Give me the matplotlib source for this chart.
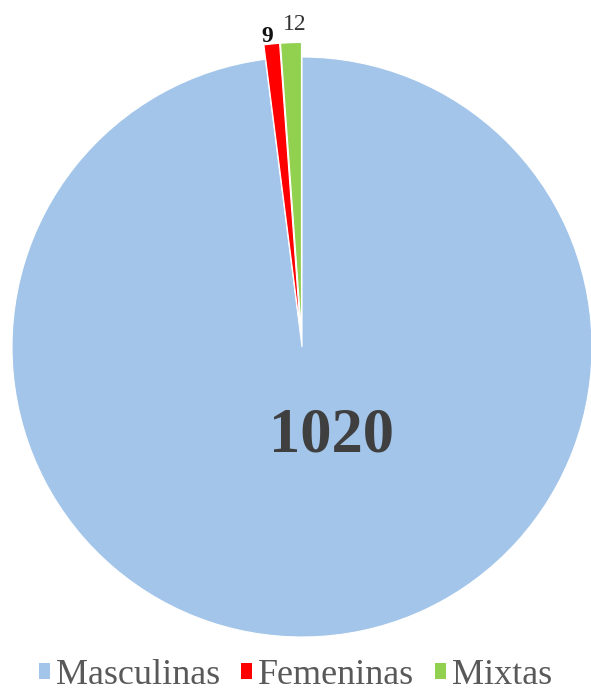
import matplotlib.pyplot as plt
from matplotlib.font_manager import FontProperties

# Datos de las categorías
categorias = ['Masculinas', 'Femeninas', 'Mixtas']
valores = [1020, 9, 12]
colores = ['#A3C5E9', '#FF0000', '#92D050']
separacion = [0, 0.05, 0.05]

plt.rcParams['font.family'] = ['Liberation Serif', 'DejaVu Serif']

fig = plt.figure(figsize=(5.91, 6.98), dpi=100)
ax = fig.add_axes([0, 0, 1, 1])

wedges, _ = ax.pie(valores, colors=colores, startangle=90, counterclock=False,
                   explode=separacion,
                   wedgeprops=dict(edgecolor='white', linewidth=0.8))

ax.set_xlim(-302 / 290, 289 / 290)
ax.set_ylim(-351 / 290, 347 / 290)
ax.set_aspect('auto')
ax.axis('off')

# Etiquetas con los valores
ax.text(0.1, -0.31, str(valores[0]), ha='center', va='center',
        fontsize=45, fontweight='bold', color='#3f3f3f')
ax.text(-0.12, 1.07, str(valores[1]), ha='center', va='center',
        fontsize=17, fontweight='bold', color='#111111')
ax.text(-0.025, 1.113, str(valores[2]), ha='center', va='center',
        fontsize=17, color='#333333')

prop = FontProperties(family='Liberation Serif', size=26)
leg = fig.legend(wedges, categorias, loc='lower center', ncol=3,
                 bbox_to_anchor=(0.5, -0.038), frameon=False,
                 prop=prop, handlelength=0.3, handleheight=0.3,
                 handletextpad=0.15, columnspacing=0.6)
for t in leg.get_texts():
    t.set_color('#595959')
for h in leg.legend_handles:
    h.set_edgecolor('none')

fig.savefig('out.png', dpi=100)
